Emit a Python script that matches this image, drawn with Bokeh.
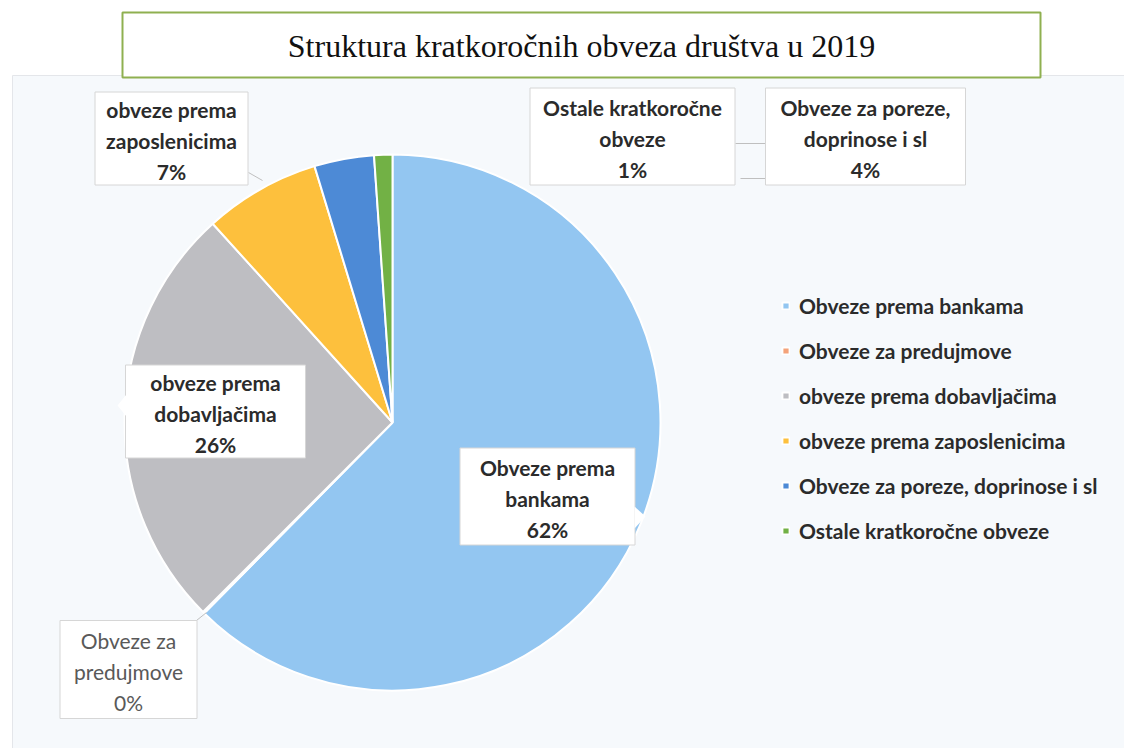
import numpy as np
from bokeh.plotting import figure
from bokeh.models import ColumnDataSource, Range1d, Legend, LegendItem
from bokeh.core.properties import value
from bokeh.embed import file_html
from bokeh.resources import INLINE

# ---------------- data ----------------
title_text = "Struktura kratkoročnih obveza društva u 2019"
categories = [
    "Obveze prema bankama",
    "Obveze za predujmove",
    "obveze prema dobavljačima",
    "obveze prema zaposlenicima",
    "Obveze za poreze, doprinose i sl",
    "Ostale kratkoročne obveze",
]
label_names = [
    ["Obveze prema", "bankama"],
    ["Obveze za", "predujmove"],
    ["obveze prema", "dobavljačima"],
    ["obveze prema", "zaposlenicima"],
    ["Obveze za poreze,", "doprinose i sl"],
    ["Ostale kratkoročne", "obveze"],
]
shares = [62.4, 0.1, 25.8, 7.0, 3.6, 1.1]

# ---------------- styles / layout ----------------
colors = ["#93C6F1", "#F4A37A", "#BEBEC2", "#FDC03D", "#4D8AD6", "#72B145"]
W, H = 1124, 748
OFF = 0


def X(px):
    return px - OFF


def Y(py):
    return H - (py - OFF)


pie_cx, pie_cy, pie_r = 392, 422, 268
# label box centre (ref px) and size
box_layout = [
    (547, 496, 175, 97),
    (128, 669, 137, 98),
    (215, 411, 180, 93),
    (171, 138, 153, 93),
    (865, 136, 200, 97),
    (632, 136, 205, 97),
]
label_colors = ["#2b2b2b", "#595959", "#2b2b2b", "#2b2b2b", "#2b2b2b", "#2b2b2b"]
label_styles = ["bold", "normal", "bold", "bold", "bold", "bold"]

p = figure(width=W, height=H, output_backend="svg", toolbar_location=None,
           x_range=Range1d(0, W), y_range=Range1d(0, H), min_border=0,
           background_fill_color="white", border_fill_color="white")
p.axis.visible = False
p.grid.visible = False
p.outline_line_color = None

# chart area background
p.quad(left=[X(12)], right=[X(1140)], bottom=[Y(760)], top=[Y(75)],
       fill_color="#F6F9FC", line_color="#E4E6EA", line_width=1)

# title box
p.quad(left=[X(122)], right=[X(1040)], bottom=[Y(77)], top=[Y(12)],
       fill_color="white", line_color="#8FB050", line_width=2)
p.text(x=[X(581)], y=[Y(45)], text=[title_text], text_font=value("Liberation Serif"),
       text_font_size="32px", text_align="center", text_baseline="middle", text_color="#111111")

# pie wedges (clockwise from 12 o'clock)
fr = np.array(shares) / sum(shares)
cum = np.concatenate([[0], np.cumsum(fr)])
start = np.pi / 2 - 2 * np.pi * cum[1:]
end = np.pi / 2 - 2 * np.pi * cum[:-1]
src = ColumnDataSource(dict(cat=categories, share=shares, start=start, end=end, color=colors))
wr = p.wedge(x=X(pie_cx), y=Y(pie_cy), radius=pie_r, start_angle="start", end_angle="end",
             source=src, fill_color="color", line_color="white", line_width=2)

# leader lines
p.segment(x0=[X(735), X(740), X(248), X(196)], y0=[Y(143), Y(178), Y(172), Y(620)],
          x1=[X(765), X(765), X(262), X(206)], y1=[Y(143), Y(178), Y(180), Y(612)],
          line_color="#BFBFBF", line_width=1)

# label boxes
for i, (cx, cy, w, h) in enumerate(box_layout):
    p.quad(left=[X(cx - w / 2)], right=[X(cx + w / 2)], bottom=[Y(cy + h / 2)], top=[Y(cy - h / 2)],
           fill_color="white", line_color="#D6D6D6", line_width=1)
    lines = label_names[i] + [f"{round(shares[i])}%"]
    ys = [Y(cy + (k - 1) * 31 + 2) for k in range(3)]
    p.text(x=[X(cx)] * 3, y=ys, text=lines, text_font=value("Lato"), text_font_size="21px",
           text_font_style=label_styles[i], text_align="center", text_baseline="middle",
           text_color=label_colors[i])

# callout pointers
p.patches(xs=[[X(634), X(645), X(634)], [X(126), X(117), X(126)]],
          ys=[[Y(506), Y(516), Y(528)], [Y(394), Y(405), Y(416)]],
          fill_color="white", line_color=None)

# legend
items = [LegendItem(label=categories[i], renderers=[wr], index=i) for i in range(len(categories))]
legend = Legend(items=items, location=(X(781), Y(543)), orientation="vertical",
                label_text_font="Lato", label_text_font_size="21px", label_text_color="#2b2b2b",
                label_text_font_style="bold",
                glyph_width=9, glyph_height=9, label_standoff=9, spacing=20, label_height=20,
                padding=0, margin=0, border_line_color=None, background_fill_alpha=0)
p.add_layout(legend)

open("out.html", "w").write(file_html(p, INLINE))
